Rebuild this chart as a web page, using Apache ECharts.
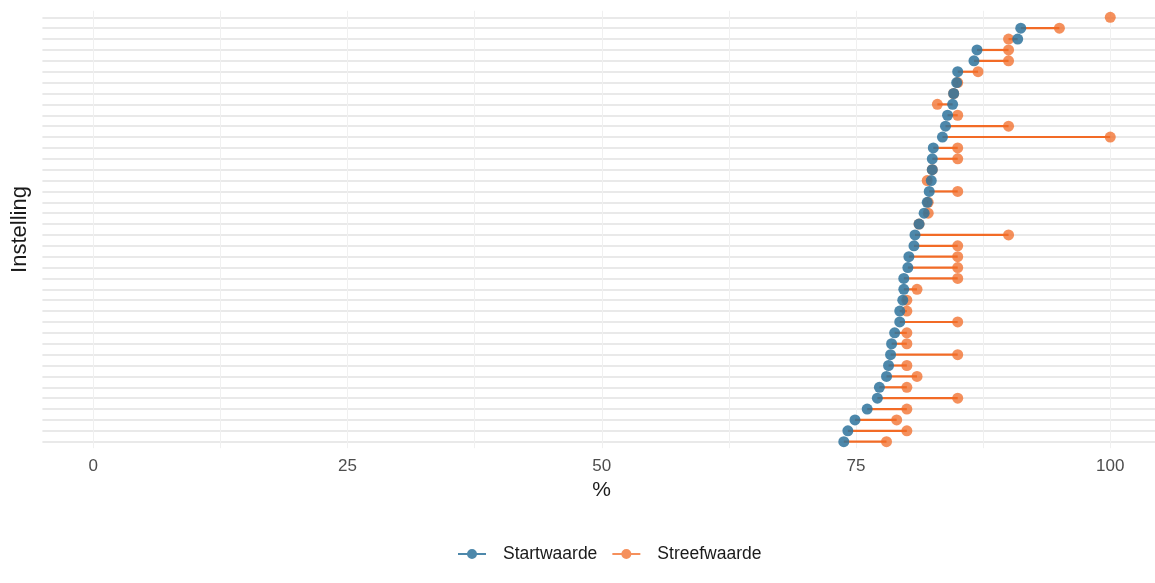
<!DOCTYPE html>
<html>
<head>
<meta charset="utf-8">
<script src="https://cdn.jsdelivr.net/npm/echarts@6/dist/echarts.min.js"></script>
<style>
  html, body { margin: 0; padding: 0; background: #fff; }
  #chart { width: 1155px; height: 583px; }
</style>
</head>
<body>
<div id="chart"></div>
<script>
// Row positions (one per Instelling, top to bottom)
const rows = [1,2,3,4,5,6,7,8,9,10,11,12,13,14,15,16,17,18,19,20,21,22,23,24,25,26,27,28,29,30,31,32,33,34,35,36,37,38,39,40];
// Startwaarde (%)
const startwaarde = [null, 91.2, 90.9, 86.9, 86.6, 85.0, 84.9, 84.6, 84.5, 84.0, 83.8, 83.5, 82.6, 82.5, 82.5, 82.4, 82.2, 82.0, 81.7, 81.2, 80.8, 80.7, 80.2, 80.1, 79.7, 79.7, 79.6, 79.3, 79.3, 78.8, 78.5, 78.4, 78.2, 78.0, 77.3, 77.1, 76.1, 74.9, 74.2, 73.8];
// Streefwaarde (%)
const streefwaarde = [100, 95, 90, 90, 90, 87, 85, 84.6, 83, 85, 90, 100, 85, 85, 82.5, 82, 85, 82.1, 82.1, 81.2, 90, 85, 85, 85, 85, 81, 80, 80, 85, 80, 80, 85, 80, 81, 80, 85, 80, 79, 80, 78];
// Axis ticks
const xTickLabels = [0, 25, 50, 75, 100];
const xGridValues = [0, 12.5, 25, 37.5, 50, 62.5, 75, 87.5, 100];
const seriesNames = ['Startwaarde', 'Streefwaarde'];

const BLUE = '#2E739C';
const ORANGE = '#F26B26';
const FONT = '"Liberation Sans", Arial, sans-serif';
const legendIcon = 'path://M0,4H28V6H0Z M9,5A5,5 0 1,1 19,5A5,5 0 1,1 9,5Z';

const chart = echarts.init(document.getElementById('chart'), null, { renderer: 'canvas' });

const segData = rows.map((r, i) => [startwaarde[i], streefwaarde[i], r]);
const startData = rows.map((r, i) => [startwaarde[i], r]).filter(d => d[0] != null);
const streefData = rows.map((r, i) => [streefwaarde[i], r]);

chart.setOption({
  animation: false,
  textStyle: { fontFamily: FONT },
  grid: { left: 42.4, right: 0, top: 10.8, height: 437.4, containLabel: false },
  xAxis: {
    type: 'value',
    min: -5, max: 104.4,
    name: '%',
    nameLocation: 'middle',
    nameGap: 31,
    nameTextStyle: { fontSize: 21, color: '#1a1a1a', fontFamily: FONT, padding: [0, 0, 0, 6] },
    axisLine: { show: false },
    axisTick: { show: false, customValues: xGridValues },
    axisLabel: { customValues: xTickLabels, fontSize: 17, color: '#4D4D4D', margin: 10, fontFamily: FONT },
    splitLine: { show: true, lineStyle: { color: '#F0F0F0', width: 1 } }
  },
  yAxis: {
    type: 'value',
    inverse: true,
    min: 0.4, max: 40.6,
    name: 'Instelling',
    nameLocation: 'middle',
    nameGap: 11,
    nameRotate: 90,
    nameTextStyle: { fontSize: 22, color: '#1a1a1a', fontFamily: FONT },
    axisLine: { show: false },
    axisTick: { show: false, customValues: rows },
    axisLabel: { show: false, customValues: rows },
    splitLine: { show: true, lineStyle: { color: '#E9E9E9', width: 2 } }
  },
  legend: {
    left: 453, top: 540,
    itemWidth: 28, itemHeight: 10, itemGap: 15,
    textStyle: { fontSize: 17.5, color: '#1a1a1a', fontFamily: FONT, padding: [0, 0, 0, 12] },
    data: [
      { name: seriesNames[0], icon: legendIcon, itemStyle: { color: BLUE } },
      { name: seriesNames[1], icon: legendIcon, itemStyle: { color: ORANGE } }
    ]
  },
  series: [
    {
      type: 'custom',
      name: 'segment',
      silent: true,
      encode: { x: [0, 1], y: 2 },
      data: segData,
      renderItem: function (params, api) {
        const s = api.value(0), t = api.value(1), r = api.value(2);
        if (s == null || isNaN(s)) return { type: 'group', children: [] };
        const p1 = api.coord([s, r]);
        const p2 = api.coord([t, r]);
        return {
          type: 'line',
          shape: { x1: p1[0], y1: p1[1], x2: p2[0], y2: p2[1] },
          style: { stroke: ORANGE, lineWidth: 2.2 }
        };
      },
      z: 2
    },
    {
      type: 'scatter',
      name: seriesNames[1],
      data: streefData,
      symbolSize: 11,
      itemStyle: { color: ORANGE, opacity: 0.75 },
      z: 3
    },
    {
      type: 'scatter',
      name: seriesNames[0],
      data: startData,
      symbolSize: 11,
      itemStyle: { color: BLUE, opacity: 0.85 },
      z: 4
    }
  ]
});
</script>
</body>
</html>
